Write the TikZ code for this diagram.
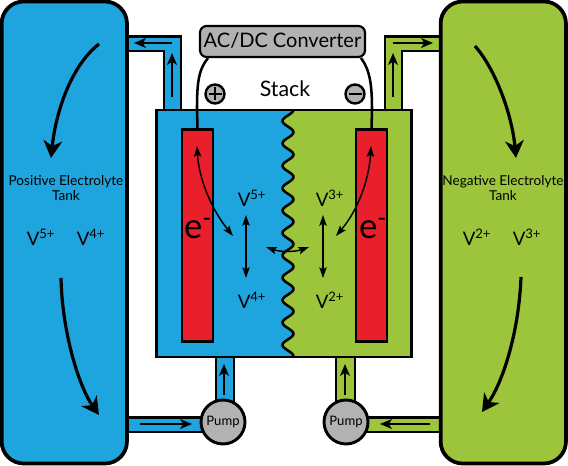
\documentclass[tikz,border=0pt]{standalone}
\usepackage{fontspec}
\setmainfont{Lato}
\usetikzlibrary{arrows.meta}
\definecolor{bl}{HTML}{1FA5DE}
\definecolor{gr}{HTML}{9DC53B}
\definecolor{rd}{HTML}{E91F2B}
\definecolor{gy}{HTML}{B2B2B2}
\newcommand{\fsz}[1]{\fontsize{#1}{#1}\selectfont}
\tikzset{
  x=0.75pt,y=-0.75pt,
  outline/.style={draw=black,line width=1.8pt,line join=miter},
  tank/.style={draw=black,line width=2.8pt,rounded corners=16.5pt,minimum width=94pt,minimum height=346.5pt,inner sep=0pt},
  elec/.style={outline,fill=rd,minimum width=23.25pt,minimum height=159pt,inner sep=0pt},
  pump/.style={outline,line width=2.2pt,circle,fill=gy,minimum size=33pt,inner sep=0pt,font=\fsz{9.8}},
  sign/.style={outline,circle,fill=gy,minimum size=14.25pt,inner sep=0pt},
  lbl/.style={inner sep=0pt,align=center},
  big/.style={line width=2.4pt,-{Stealth[length=13pt,width=14pt,inset=4pt]}},
  small/.style={line width=1.2pt,-{Stealth[length=9pt,width=7.5pt,inset=2.5pt]}},
  both/.style={line width=1.1pt,{Stealth[length=8pt,width=5.5pt,inset=1.5pt]}-{Stealth[length=8pt,width=5.5pt,inset=1.5pt]}},
  wire/.style={line width=1.9pt}
}
\begin{document}
\begin{tikzpicture}
\useasboundingbox (0,0) rectangle (568,466);
% pipes
\filldraw[outline,fill=bl] (120,36.5) -- (181,36.5) -- (181,115) -- (164,115) -- (164,51) -- (120,51);
\filldraw[outline,fill=gr] (450,36.5) -- (385,36.5) -- (385,115) -- (402,115) -- (402,51) -- (450,51);
\filldraw[outline,fill=bl] (216,350) rectangle (234,410);
\filldraw[outline,fill=gr] (336,350) rectangle (355,410);
\filldraw[outline,fill=bl] (120,417.5) rectangle (215,432);
\filldraw[outline,fill=gr] (355,417.5) rectangle (450,432);
% tanks
\node[tank,fill=bl] (ltank) at (64.3,232.5) {};
\node[tank,fill=gr] (rtank) at (503.3,232.5) {};
% stack body
\fill[bl] (157,110) rectangle (300,356);
\fill[gr] plot[domain=110:356,samples=220] ({288-5.5*cos((\x-121)/22.4*360)},\x) -- (411,356) -- (411,110) -- cycle;
\draw[line width=1.9pt] plot[domain=110:356,samples=220] ({288-5.5*cos((\x-121)/22.4*360)},\x);
\node[outline,line width=1.7pt,minimum width=191.25pt,minimum height=185.25pt,inner sep=0pt] (stack) at (284,233.5) {};
% electrodes
\node[elec] (pos) at (197.5,235.5) {};
\node[elec] (neg) at (371.5,235.5) {};
% converter
\node[outline,line width=1.6pt,fill=gy,rounded corners=5pt,minimum width=123.75pt,minimum height=23.25pt,inner sep=0pt] (conv) at (282.5,41.5) {};
\node[lbl,font=\fsz{15}] (convt) at (282.5,40.5) {AC/DC Converter};
% wires
\draw[wire] (208,58) .. controls (198,70) and (197,85) .. (197,110) -- (pos.north);
\draw[wire] (361,58) .. controls (370,70) and (372,85) .. (372,110) -- (neg.north);
% signs
\node[sign] (plus) at (215,94) {};
\draw[line width=0.8pt] (208.5,94) -- (221.5,94) (215,87.5) -- (215,100.5);
\node[sign] (minus) at (355,94) {};
\draw[line width=0.8pt] (348.5,94) -- (361.5,94);
\node[lbl,font=\fsz{16}] (stk) at (285,89) {Stack};
% pumps
\node[pump] (p1) at (223,422) {Pump};
\node[pump] (p2) at (346,422) {Pump};
% tank labels
\node[lbl,font=\fsz{10.2}] (lt) at (66,188) {Positive Electrolyte\\[1.5pt]Tank};
\node[lbl,font=\fsz{10.2}] (rt) at (503,188) {Negative Electrolyte\\[1.5pt]Tank};
\node[lbl,font=\fsz{14}] (v1) at (41,237) {V\textsuperscript{5+}};
\node[lbl,font=\fsz{14}] (v2) at (91,237) {V\textsuperscript{4+}};
\node[lbl,font=\fsz{14}] (v3) at (477,237) {V\textsuperscript{2+}};
\node[lbl,font=\fsz{14}] (v4) at (527,237) {V\textsuperscript{3+}};
% stack labels
\node[lbl,font=\fsz{14}] (a1) at (252,198) {V\textsuperscript{5+}};
\node[lbl,font=\fsz{14}] (a2) at (252,300) {V\textsuperscript{4+}};
\node[lbl,font=\fsz{14}] (b1) at (330,198) {V\textsuperscript{3+}};
\node[lbl,font=\fsz{14}] (b2) at (330,300) {V\textsuperscript{2+}};
\node[lbl,font=\fsz{26}] (e1) at (198,229) {e\textsuperscript{-}};
\node[lbl,font=\fsz{26}] (e2) at (373,229) {e\textsuperscript{-}};
% big arrows
\draw[big] (99,44) .. controls (72,65) and (56,110) .. (51,158);
\draw[big] (61,278) .. controls (62,330) and (78,385) .. (99,415);
\draw[big] (475,46) .. controls (496,70) and (512,115) .. (516,158);
\draw[big] (521,277) .. controls (519,330) and (504,380) .. (482,412);
% small arrows
\draw[small] (172,97) -- (172,53);
\draw[small] (172,43) -- (134,43);
\draw[small] (393,97) -- (393,53);
\draw[small] (393,43) -- (433,43);
\draw[small] (224,395) -- (224,364);
\draw[small] (140,424) -- (192,424);
\draw[small] (345,395) -- (345,364);
\draw[small] (430,424) -- (380,424);
\draw[both] (246,215) -- (246,278);
\draw[both] (323,215) -- (323,278);
\draw[both] (197,146) .. controls (199,180) and (212,210) .. (233,236);
\draw[both] (371,146) .. controls (369,180) and (358,210) .. (336,236);
\draw[both] (266,247) .. controls (280,252) and (295,252) .. (309,247);
\end{tikzpicture}
\end{document}
